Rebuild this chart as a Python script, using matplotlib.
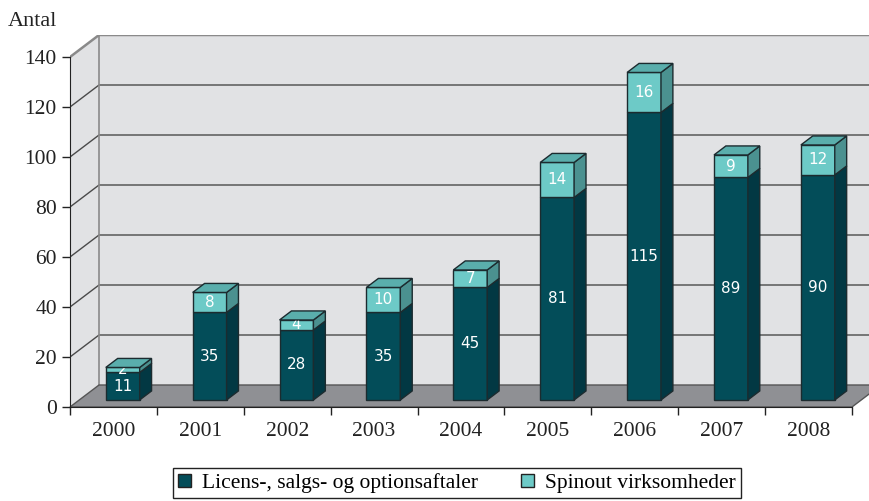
import matplotlib.pyplot as plt
from matplotlib.patches import Polygon, Patch

years = ['2000', '2001', '2002', '2003', '2004', '2005', '2006', '2007', '2008']
licens = [11, 35, 28, 35, 45, 81, 115, 89, 90]
spinout = [2, 8, 4, 10, 7, 14, 16, 9, 12]
yticks = [0, 20, 40, 60, 80, 100, 120, 140]

# colours
wall = '#e1e2e4'
floor = '#8f9094'
grid = '#4a4a4a'
dark_front, dark_side = '#034d59', '#023843'
light_front, light_side, light_top = '#6dcac7', '#4b9190', '#5aaeac'
edge = '#1c2b2f'
txt = '#222222'

# fake 3d depth (data units)
dx, dy = 0.334, 8.8
f0, bd = 0.32, 0.41   # bar front position and depth as fraction of depth
w = 0.39

fig = plt.figure(figsize=(8.69, 5.01), dpi=100)
ax = fig.add_axes([70 / 869, 94 / 501, 811 / 869, 372 / 501])
ax.set_xlim(-0.5, 8.5 + dx)
ax.set_ylim(0, 140 + dy)
ax.patch.set_visible(False)

n = len(years)
# back wall and left wall
ax.add_patch(Polygon([(-0.5 + dx, dy), (8.5 + dx, dy), (8.5 + dx, 140 + dy), (-0.5 + dx, 140 + dy)],
                     closed=True, facecolor=wall, edgecolor='none', zorder=0))
ax.add_patch(Polygon([(-0.5, 0), (-0.5 + dx, dy), (-0.5 + dx, 140 + dy), (-0.5, 140)],
                     closed=True, facecolor=wall, edgecolor='none', zorder=0))
for v in yticks[1:]:
    c = '#8a8a8a' if v == 140 else grid
    lw = 1.8 if v == 140 else 1.0
    ax.plot([-0.5, -0.5 + dx, 8.5 + dx], [v, v + dy, v + dy], color=c, lw=lw, zorder=1,
            solid_capstyle='butt')
ax.plot([-0.5 + dx, -0.5 + dx], [dy, 140 + dy], color='#8a8a8a', lw=1.2, zorder=1)

# floor
ax.add_patch(Polygon([(-0.5, 0), (8.5, 0), (8.5 + dx, dy), (-0.5 + dx, dy)],
                     closed=True, facecolor=floor, edgecolor='#555555', lw=1.0, zorder=2,
                     clip_on=False))

# bars
for i in range(n):
    x0 = i - w / 2 + f0 * dx
    x1 = x0 + w
    base = f0 * dy
    segs = [(0, licens[i], dark_front, dark_side), (licens[i], licens[i] + spinout[i], light_front, light_side)]
    for b, t, fc, sc in segs:
        ax.add_patch(Polygon([(x0, base + b), (x1, base + b), (x1, base + t), (x0, base + t)],
                             closed=True, facecolor=fc, edgecolor=edge, lw=1.0, zorder=3))
        ax.add_patch(Polygon([(x1, base + b), (x1 + bd * dx, base + b + bd * dy),
                              (x1 + bd * dx, base + t + bd * dy), (x1, base + t)],
                             closed=True, facecolor=sc, edgecolor=edge, lw=1.0, zorder=5))
    T = base + licens[i] + spinout[i]
    ax.add_patch(Polygon([(x0, T), (x1, T), (x1 + bd * dx, T + bd * dy), (x0 + bd * dx, T + bd * dy)],
                         closed=True, facecolor=light_top, edgecolor=edge, lw=1.0, zorder=5))
    xc = (x0 + x1) / 2
    ax.text(xc, base + licens[i] / 2, str(licens[i]), color='white', ha='center', va='center',
            fontsize=11, family='DejaVu Sans', zorder=4)
    ax.text(xc, base + licens[i] + spinout[i] / 2, str(spinout[i]), color='white', ha='center',
            va='center', fontsize=11, family='DejaVu Sans', zorder=4)

# axes
for s in ['top', 'right']:
    ax.spines[s].set_visible(False)
ax.spines['left'].set_bounds(0, 140)
ax.spines['bottom'].set_bounds(-0.5, 8.5)
ax.spines['left'].set_color(txt)
ax.spines['bottom'].set_color(txt)
ax.spines['left'].set_zorder(6)
ax.spines['bottom'].set_zorder(6)

ax.set_yticks(yticks)
ax.set_yticklabels([str(v) for v in yticks], family='Liberation Serif', fontsize=15.5, color=txt)
ax.tick_params(axis='y', length=6, width=1, pad=3.5, color=txt)
ax.set_xticks(range(n))
ax.set_xticklabels(years, family='Liberation Serif', fontsize=15.5, color=txt)
ax.set_xticks([i - 0.5 for i in range(n + 1)], minor=True)
ax.tick_params(axis='x', which='major', length=0, pad=11)
ax.tick_params(axis='x', which='minor', length=6, width=1, color=txt)

fig.text(8 / 869, 1 - 21 / 501, 'Antal', family='Liberation Serif', fontsize=16, color=txt,
         ha='left', va='center')

handles = [Patch(facecolor=dark_front, edgecolor=txt, label='Licens-, salgs- og optionsaftaler'),
           Patch(facecolor=light_front, edgecolor=txt, label='Spinout virksomheder')]
leg = fig.legend(handles=handles, loc='center', bbox_to_anchor=(457 / 869, 18 / 501), ncol=2,
                 frameon=True, fancybox=False, edgecolor=txt, framealpha=1,
                 prop={'family': 'Liberation Serif', 'size': 15.5}, handlelength=0.6, handleheight=0.6,
                 handletextpad=0.5, columnspacing=2.0, borderpad=0.25, borderaxespad=0.0)
leg.get_frame().set_linewidth(1.0)

fig.savefig('out.png', dpi=100)
